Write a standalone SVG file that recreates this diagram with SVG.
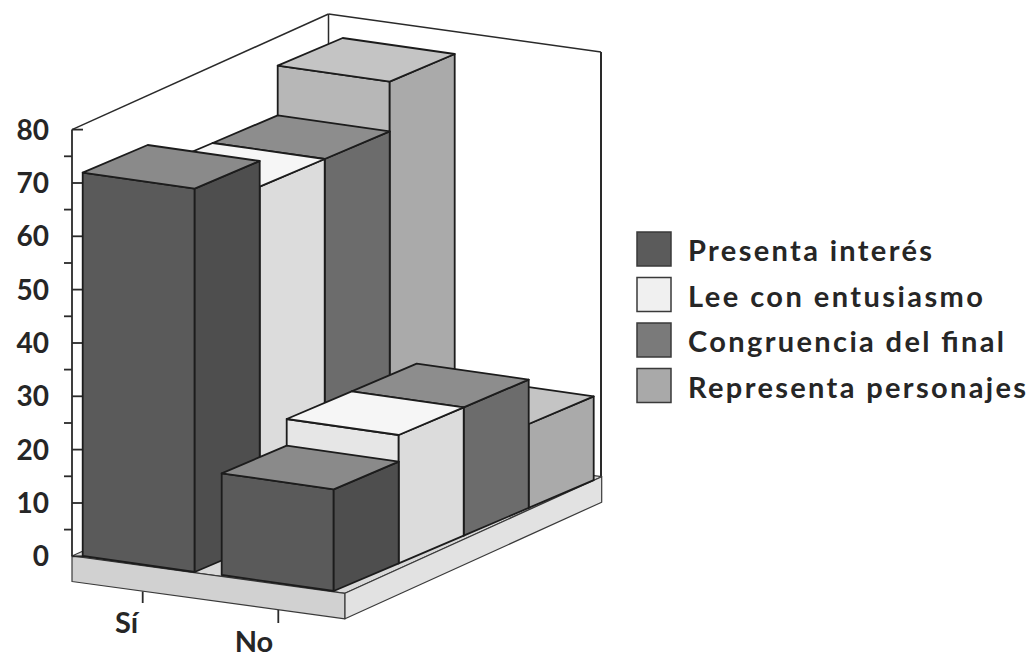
<svg xmlns="http://www.w3.org/2000/svg" width="1033" height="657" viewBox="0 0 1033 657">
<style>
text{font-family:Lato,"Liberation Sans",sans-serif;font-weight:700;fill:#262626}
.ax{font-size:28px;text-anchor:end}
.cat{font-size:29px;text-anchor:middle}
.leg{font-size:29px}
.wall{fill:none;stroke:#2a2a2a;stroke-width:1.5}
.tick{stroke:#2a2a2a;stroke-width:1.8}
.e{stroke:#1c1c1c;stroke-width:1.8;stroke-linejoin:round}
.fl{stroke:#3a3a3a;stroke-width:1.2;stroke-linejoin:round}
.pF{fill:#5a5a5a}.pS{fill:#4e4e4e}.pT{fill:#8a8a8a}
.lF{fill:#e6e6e6}.lS{fill:#dcdcdc}.lT{fill:#f6f6f6}
.cF{fill:#7c7c7c}.cS{fill:#6c6c6c}.cT{fill:#8d8d8d}
.rF{fill:#b7b7b7}.rS{fill:#aaaaaa}.rT{fill:#c4c4c4}
.sq{stroke:#3a3a3a;stroke-width:1.5}
</style>
<rect width="1033" height="657" fill="#ffffff"/>
<g id="walls">
<line class="wall" x1="72" y1="129.6" x2="328.5" y2="14"/>
<line class="wall" x1="328.5" y1="14" x2="328.5" y2="440"/>
<line class="wall" x1="328.5" y1="14" x2="601" y2="52"/>
<line class="wall" x1="601" y1="52" x2="601" y2="477" style="stroke-width:2"/>
</g>
<g id="floor">
<polygon class="fl" fill="#d9d9d9" points="72,556 345,593.3 601.7,476.7 328.5,440.5"/>
<polygon class="fl" fill="#d1d1d1" points="72,556 345,593.3 345,618.8 72,581.5"/>
<polygon class="fl" fill="#e2e2e2" points="345,593.3 601.7,476.7 601.7,502.2 345,618.8"/>
</g>
<g id="axis">
<line class="tick" x1="72" y1="129.6" x2="72" y2="556.3"/>
<g class="tick">
<line x1="72" y1="556.3" x2="83" y2="556.3"/><line x1="72" y1="503" x2="83" y2="503"/><line x1="72" y1="449.6" x2="83" y2="449.6"/><line x1="72" y1="396.3" x2="83" y2="396.3"/><line x1="72" y1="343" x2="83" y2="343"/><line x1="72" y1="289.6" x2="83" y2="289.6"/><line x1="72" y1="236.3" x2="83" y2="236.3"/><line x1="72" y1="183" x2="83" y2="183"/><line x1="72" y1="129.6" x2="83" y2="129.6"/>
<line x1="64" y1="529.6" x2="72" y2="529.6"/><line x1="64" y1="476.3" x2="72" y2="476.3"/><line x1="64" y1="423" x2="72" y2="423"/><line x1="64" y1="369.6" x2="72" y2="369.6"/><line x1="64" y1="316.3" x2="72" y2="316.3"/><line x1="64" y1="263" x2="72" y2="263"/><line x1="64" y1="209.6" x2="72" y2="209.6"/><line x1="64" y1="156.3" x2="72" y2="156.3"/>
</g>
<text class="ax" x="49" y="139.6">80</text>
<text class="ax" x="49" y="193">70</text>
<text class="ax" x="49" y="246.3">60</text>
<text class="ax" x="49" y="299.6">50</text>
<text class="ax" x="49" y="353">40</text>
<text class="ax" x="49" y="406.3">30</text>
<text class="ax" x="49" y="459.6">20</text>
<text class="ax" x="49" y="513">10</text>
<text class="ax" x="49" y="566.3">0</text>
<line class="tick" x1="142.7" y1="591.5" x2="142.7" y2="603"/>
<line class="tick" x1="278.3" y1="610" x2="278.3" y2="623"/>
<text class="cat" x="126.5" y="633">Sí</text>
<text class="cat" x="254" y="652">No</text>
</g>
<g id="bars">
<g id="si-representa" class="e">
<polygon class="rF" points="277.7,472.9 389.7,488.9 389.7,81.7 277.7,65.7"/>
<polygon class="rS" points="389.7,488.9 454.7,461.2 454.7,54 389.7,81.7"/>
<polygon class="rT" points="277.7,65.7 389.7,81.7 454.7,54 342.7,38"/>
</g>
<g id="no-representa" class="e">
<polygon class="rF" points="416.7,491.9 528.7,507.9 528.7,424 416.7,408"/>
<polygon class="rS" points="528.7,507.9 593.7,480.2 593.7,396.3 528.7,424"/>
<polygon class="rT" points="416.7,408 528.7,424 593.7,396.3 481.7,380.3"/>
</g>
<g id="si-congruencia" class="e">
<polygon class="cF" points="212.7,500.6 324.7,516.6 324.7,159 212.7,143"/>
<polygon class="cS" points="324.7,516.6 389.7,488.9 389.7,131.3 324.7,159"/>
<polygon class="cT" points="212.7,143 324.7,159 389.7,131.3 277.7,115.3"/>
</g>
<g id="no-congruencia" class="e">
<polygon class="cF" points="351.7,519.6 463.7,535.6 463.7,407.3 351.7,391.3"/>
<polygon class="cS" points="463.7,535.6 528.7,507.9 528.7,379.6 463.7,407.3"/>
<polygon class="cT" points="351.7,391.3 463.7,407.3 528.7,379.6 416.7,363.6"/>
</g>
<g id="si-lee" class="e">
<polygon class="lF" points="147.7,528.3 259.7,544.3 259.7,186.7 147.7,170.7"/>
<polygon class="lS" points="259.7,544.3 324.7,516.6 324.7,159 259.7,186.7"/>
<polygon class="lT" points="147.7,170.7 259.7,186.7 324.7,159 212.7,143"/>
</g>
<g id="no-lee" class="e">
<polygon class="lF" points="286.7,547.3 398.7,563.3 398.7,435 286.7,419"/>
<polygon class="lS" points="398.7,563.3 463.7,535.6 463.7,407.3 398.7,435"/>
<polygon class="lT" points="286.7,419 398.7,435 463.7,407.3 351.7,391.3"/>
</g>
<g id="si-presenta" class="e">
<polygon class="pF" points="82.7,556 194.7,572 194.7,188.7 82.7,172.7"/>
<polygon class="pS" points="194.7,572 259.7,544.3 259.7,161 194.7,188.7"/>
<polygon class="pT" points="82.7,172.7 194.7,188.7 259.7,161 147.7,145"/>
</g>
<g id="no-presenta" class="e">
<polygon class="pF" points="221.7,575 333.7,591 333.7,489.3 221.7,473.3"/>
<polygon class="pS" points="333.7,591 398.7,563.3 398.7,461.6 333.7,489.3"/>
<polygon class="pT" points="221.7,473.3 333.7,489.3 398.7,461.6 286.7,445.6"/>
</g>
</g>
<g id="legend">
<g id="leg-presenta"><rect class="sq" x="637" y="232" width="34" height="34" fill="#5b5b5b"/><text class="leg" x="688" y="261" textLength="244" lengthAdjust="spacing">Presenta interés</text></g>
<g id="leg-lee"><rect class="sq" x="637" y="277.5" width="34" height="34" fill="#f0f0f0"/><text class="leg" x="688" y="306.5" textLength="295" lengthAdjust="spacing">Lee con entusiasmo</text></g>
<g id="leg-congruencia"><rect class="sq" x="637" y="323" width="34" height="34" fill="#7a7a7a"/><text class="leg" x="688" y="352" textLength="316" lengthAdjust="spacing">Congruencia del final</text></g>
<g id="leg-representa"><rect class="sq" x="637" y="368.5" width="34" height="34" fill="#a9a9a9"/><text class="leg" x="688" y="397.5" textLength="338" lengthAdjust="spacing">Representa personajes</text></g>
</g>
</svg>
